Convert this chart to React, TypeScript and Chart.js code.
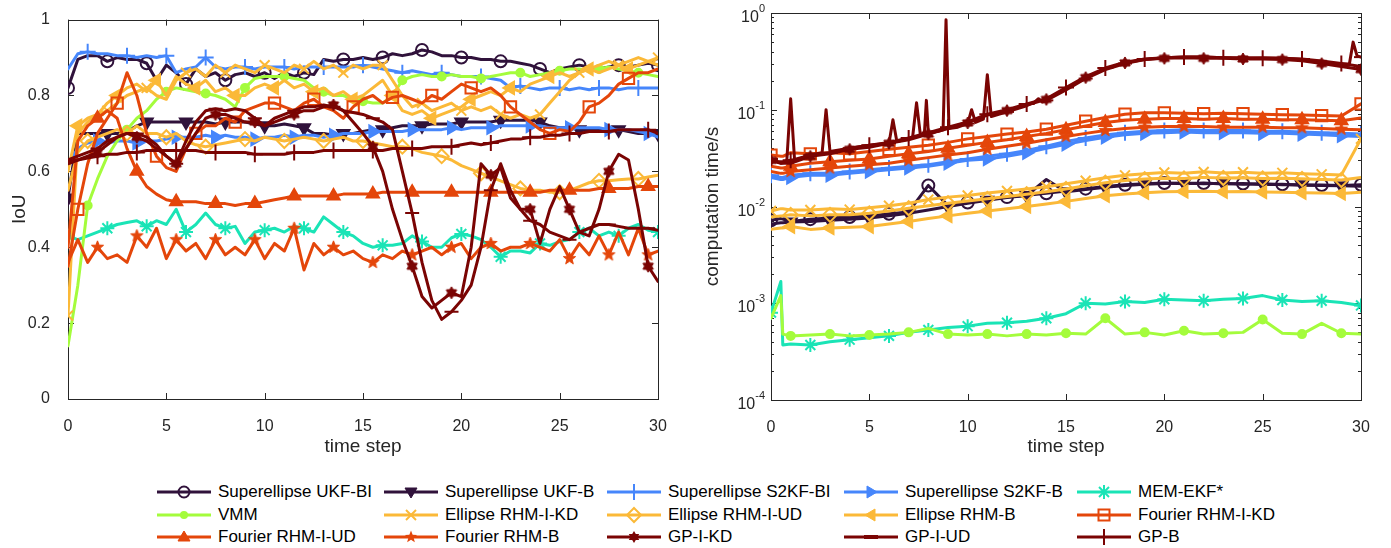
import React, { useEffect, useRef } from 'react';
import { Chart, registerables } from 'chart.js';

Chart.register(...registerables);

const FONT = '"Liberation Sans", Arial, Helvetica, sans-serif';
const INK = '#262626';

// ---------------- shared axis ticks ----------------
const timeTicks = [0, 5, 10, 15, 20, 25, 30];
const timeTickLabels = ['0', '5', '10', '15', '20', '25', '30'];
const iouTicks = [0, 0.2, 0.4, 0.6, 0.8, 1];
const iouTickLabels = ['0', '0.2', '0.4', '0.6', '0.8', '1'];
const logTickExponents = [-4, -3, -2, -1, 0];

const seriesNames = [
  'Superellipse UKF-BI', 'Superellipse UKF-B', 'Superellipse S2KF-BI', 'Superellipse S2KF-B', 'MEM-EKF*',
  'VMM', 'Ellipse RHM-I-KD', 'Ellipse RHM-I-UD', 'Ellipse RHM-B', 'Fourier RHM-I-KD',
  'Fourier RHM-I-UD', 'Fourier RHM-B', 'GP-I-KD', 'GP-I-UD', 'GP-B',
];

// ---------------- left panel: IoU ----------------
const iouTimeSteps = [
  0, 0.5, 1, 1.5, 2, 2.5, 3, 3.5, 4, 4.5,
  5, 5.5, 6, 6.5, 7, 7.5, 8, 8.5, 9, 9.5,
  10, 10.5, 11, 11.5, 12, 12.5, 13, 13.5, 14, 14.5,
  15, 15.5, 16, 16.5, 17, 17.5, 18, 18.5, 19, 19.5,
  20, 20.5, 21, 21.5, 22, 22.5, 23, 23.5, 24, 24.5,
  25, 25.5, 26, 26.5, 27, 27.5, 28, 28.5, 29, 29.5,
  30,
];

const iouUkfBI = [
  .82, .895, .905, .905, .89, .90, .895, .895, .885, .84,
  .88, .86, .83, .87, .85, .86, .84, .855, .86, .85,
  .86, .845, .86, .85, .86, .855, .895, .89, .895, .895,
  .90, .895, .90, .91, .905, .91, .92, .915, .905, .905,
  .90, .90, .895, .895, .89, .89, .885, .88, .87, .86,
  .87, .875, .88, .875, .87, .875, .88, .875, .88, .885,
  .88,
];
const iouUkfB = [
  .53, .70, .70, .70, .70, .70, .705, .72, .73, .73,
  .73, .73, .73, .73, .73, .725, .73, .73, .73, .725,
  .72, .72, .725, .72, .715, .70, .70, .695, .70, .70,
  .705, .71, .71, .715, .72, .72, .72, .725, .725, .725,
  .73, .73, .73, .73, .735, .735, .735, .735, .73, .72,
  .715, .715, .71, .71, .71, .71, .71, .705, .70, .70,
  .70,
];
const iouS2kfBI = [
  .87, .91, .915, .91, .91, .905, .905, .90, .905, .90,
  .905, .86, .87, .875, .90, .875, .87, .875, .875, .87,
  .875, .875, .875, .87, .875, .875, .875, .875, .875, .875,
  .88, .875, .87, .865, .86, .865, .86, .855, .86, .855,
  .85, .85, .85, .845, .84, .82, .825, .82, .815, .82,
  .82, .815, .82, .815, .82, .82, .815, .82, .82, .82,
  .82,
];
const iouS2kfB = [
  .62, .66, .675, .68, .675, .68, .68, .675, .68, .68,
  .685, .69, .69, .69, .695, .69, .695, .69, .69, .685,
  .69, .69, .695, .69, .695, .695, .69, .695, .70, .70,
  .70, .705, .705, .705, .705, .71, .71, .71, .71, .715,
  .71, .715, .715, .715, .72, .72, .72, .72, .72, .715,
  .715, .715, .715, .715, .715, .71, .71, .71, .705, .70,
  .69,
];
const iouMemEkf = [
  .43, .42, .43, .44, .45, .46, .465, .47, .455, .47,
  .46, .50, .44, .46, .49, .46, .45, .455, .41, .44,
  .445, .45, .44, .455, .45, .44, .48, .46, .44, .43,
  .41, .40, .405, .405, .41, .43, .415, .40, .40, .425,
  .435, .43, .42, .40, .375, .39, .39, .385, .41, .405,
  .415, .42, .44, .45, .43, .44, .43, .45, .46, .445,
  .44,
];
const iouVmm = [
  .14, .30, .51, .58, .64, .68, .71, .74, .76, .79,
  .81, .82, .815, .81, .805, .80, .79, .77, .82, .845,
  .85, .85, .85, .845, .84, .82, .81, .80, .80, .79,
  .785, .78, .78, .80, .84, .85, .855, .85, .85, .855,
  .85, .85, .845, .85, .855, .86, .86, .85, .855, .86,
  .865, .87, .87, .865, .87, .875, .87, .865, .86, .855,
  .85,
];
const iouEllIKD = [
  .22, .70, .73, .75, .76, .78, .80, .81, .82, .80,
  .79, .84, .86, .87, .85, .88, .86, .88, .87, .86,
  .88, .87, .86, .88, .87, .89, .87, .88, .86, .88,
  .87, .88, .88, .84, .80, .77, .78, .76, .77, .78,
  .76, .77, .76, .77, .75, .74, .75, .74, .75, .78,
  .81, .84, .86, .87, .88, .89, .88, .89, .90, .89,
  .90,
];
const iouEllIUD = [
  .55, .65, .68, .69, .70, .71, .70, .72, .70, .70,
  .69, .70, .68, .67, .665, .67, .675, .68, .685, .68,
  .69, .685, .68, .685, .69, .685, .68, .685, .69, .68,
  .68, .675, .67, .665, .665, .66, .65, .645, .64, .63,
  .615, .605, .595, .585, .575, .565, .555, .55, .55, .545,
  .545, .55, .56, .57, .575, .575, .578, .58, .58, .585,
  .59,
];
const iouEllB = [
  .60, .72, .74, .75, .78, .80, .82, .83, .81, .84,
  .80, .85, .83, .82, .84, .81, .82, .80, .80, .82,
  .83, .82, .84, .82, .83, .81, .82, .80, .81, .79,
  .80, .82, .84, .80, .76, .75, .76, .74, .75, .76,
  .77, .79, .80, .81, .80, .82, .81, .83, .84, .85,
  .86, .85, .86, .87, .86, .87, .88, .87, .88, .89,
  .88,
];
const iouFouIKD = [
  .35, .50, .62, .70, .74, .78, .86, .80, .70, .64,
  .61, .60, .66, .70, .72, .72, .74, .73, .76, .77,
  .78, .78, .77, .76, .78, .79, .77, .76, .74, .77,
  .79, .80, .78, .795, .80, .79, .78, .80, .79, .81,
  .83, .82, .81, .82, .80, .77, .75, .73, .71, .70,
  .71, .705, .73, .77, .78, .80, .83, .845, .86, .86,
  .87,
];
const iouFouIUD = [
  .40, .68, .72, .74, .76, .74, .66, .60, .56, .54,
  .525, .52, .52, .52, .515, .515, .515, .51, .515, .515,
  .52, .525, .53, .535, .535, .535, .535, .535, .54, .54,
  .54, .54, .545, .545, .545, .545, .545, .545, .545, .545,
  .545, .545, .545, .545, .545, .545, .545, .545, .545, .55,
  .55, .55, .55, .55, .555, .555, .555, .555, .56, .56,
  .56,
];
const iouFouB = [
  .36, .42, .36, .40, .37, .38, .36, .43, .40, .45,
  .37, .42, .39, .41, .37, .42, .38, .40, .38, .42,
  .37, .41, .39, .45, .34, .41, .38, .40, .38, .39,
  .37, .36, .38, .37, .39, .38, .39, .40, .38, .40,
  .41, .37, .40, .41, .39, .40, .40, .41, .40, .39,
  .42, .37, .41, .38, .43, .38, .44, .38, .45, .38,
  .39,
];
const iouGpIKD = [
  .62, .63, .64, .65, .67, .69, .70, .69, .68, .66,
  .64, .62, .66, .70, .74, .75, .75, .74, .73, .73,
  .72, .73, .74, .75, .76, .76, .77, .775, .76, .73,
  .70, .665, .60, .50, .42, .35, .27, .24, .26, .28,
  .27, .40, .62, .59, .61, .53, .50, .50, .41, .50,
  .56, .50, .44, .43, .50, .60, .645, .63, .50, .35,
  .31,
];
const iouGpIUD = [
  .63, .64, .65, .66, .68, .69, .70, .70, .69, .67,
  .64, .62, .68, .73, .76, .765, .76, .765, .76, .74,
  .72, .74, .75, .76, .77, .77, .775, .77, .76, .755,
  .75, .74, .73, .71, .60, .49, .36, .26, .21, .23,
  .26, .30, .40, .55, .62, .55, .50, .47, .46, .44,
  .43, .42, .44, .45, .46, .46, .455, .45, .45, .45,
  .445,
];
const iouGpB = [
  .625, .63, .635, .64, .645, .645, .65, .65, .655, .655,
  .655, .655, .655, .655, .65, .65, .65, .65, .65, .645,
  .645, .645, .645, .65, .65, .65, .655, .655, .655, .655,
  .655, .655, .655, .66, .66, .66, .66, .665, .665, .665,
  .67, .675, .67, .675, .68, .685, .685, .69, .69, .695,
  .695, .70, .70, .705, .705, .705, .71, .71, .71, .71,
  .70,
];

// ---------------- right panel: computation time (s) ----------------
const cpuTimeSteps = [
  0, 0.5, 0.6, 1,
  2, 3, 4, 5, 6, 7, 8, 9, 10, 11,
  12, 13, 14, 15, 16, 17, 18, 19, 20, 21,
  22, 23, 24, 25, 26, 27, 28, 29, 30,
];
const cpuUkfBI = [
  0.0072, 0.0075, 0.0074, 0.0070,
  0.0074, 0.0076, 0.0078, 0.0080, 0.0084, 0.0088, 0.0165, 0.0102, 0.0110, 0.0118,
  0.0125, 0.0131, 0.0137, 0.0145, 0.0153, 0.0161, 0.0168, 0.0172, 0.0175, 0.0172,
  0.0175, 0.0171, 0.0173, 0.0169, 0.0170, 0.0166, 0.0167, 0.0165, 0.0168,
];
const cpuUkfB = [
  0.0066, 0.0068, 0.0068, 0.0069,
  0.0070, 0.0072, 0.0074, 0.0076, 0.0080, 0.0085, 0.0092, 0.0100, 0.0108, 0.0116,
  0.0124, 0.0130, 0.0190, 0.0142, 0.0150, 0.0158, 0.0165, 0.0170, 0.0173, 0.0175,
  0.0172, 0.0174, 0.0170, 0.0172, 0.0168, 0.0168, 0.0165, 0.0164, 0.0162,
];
const cpuS2kfBI = [
  0.021, 0.020, 0.020, 0.021,
  0.022, 0.022, 0.023, 0.024, 0.025, 0.026, 0.027, 0.029, 0.031, 0.033,
  0.035, 0.038, 0.042, 0.047, 0.051, 0.055, 0.058, 0.060, 0.061, 0.062,
  0.061, 0.061, 0.061, 0.060, 0.060, 0.059, 0.058, 0.057, 0.056,
];
const cpuS2kfB = [
  0.020, 0.019, 0.019, 0.020,
  0.021, 0.021, 0.022, 0.023, 0.024, 0.025, 0.026, 0.028, 0.030, 0.031,
  0.033, 0.036, 0.040, 0.044, 0.048, 0.052, 0.055, 0.057, 0.058, 0.059,
  0.058, 0.058, 0.058, 0.057, 0.057, 0.056, 0.055, 0.054, 0.053,
];
const cpuMemEkf = [
  0.00080, 0.00168, 0.00037, 0.00038,
  0.00037, 0.00040, 0.00042, 0.00044, 0.00046, 0.00050, 0.00053, 0.00056, 0.00058, 0.00062,
  0.00063, 0.00065, 0.00070, 0.00078, 0.00100, 0.00098, 0.00104, 0.00102, 0.00110, 0.00108,
  0.00106, 0.00110, 0.00112, 0.00120, 0.00108, 0.00104, 0.00106, 0.00102, 0.00095,
];
const cpuVmm = [
  0.00070, 0.00120, 0.00048, 0.00046,
  0.00047, 0.00048, 0.00046, 0.00047, 0.00048, 0.00050, 0.00055, 0.00048, 0.00047, 0.00048,
  0.00046, 0.00048, 0.00047, 0.00049, 0.00048, 0.00070, 0.00048, 0.00050, 0.00047, 0.00052,
  0.00048, 0.00049, 0.00050, 0.00068, 0.00049, 0.00048, 0.00062, 0.00049, 0.00048,
];
const cpuEllIKD = [
  0.0090, 0.0095, 0.0095, 0.0092,
  0.0092, 0.0095, 0.0093, 0.0097, 0.0102, 0.0108, 0.0118, 0.0125, 0.0130, 0.0138,
  0.0145, 0.0152, 0.0160, 0.0172, 0.0185, 0.0198, 0.0210, 0.0218, 0.0225, 0.0220,
  0.0228, 0.0222, 0.0226, 0.0220, 0.0223, 0.0218, 0.0215, 0.0212, 0.0500,
];
const cpuEllIUD = [
  0.0078, 0.0080, 0.0080, 0.0082,
  0.0080, 0.0082, 0.0082, 0.0085, 0.0090, 0.0096, 0.0102, 0.0108, 0.0114, 0.0120,
  0.0127, 0.0134, 0.0142, 0.0152, 0.0164, 0.0176, 0.0186, 0.0192, 0.0196, 0.0195,
  0.0200, 0.0197, 0.0198, 0.0195, 0.0196, 0.0193, 0.0190, 0.0188, 0.0200,
];
const cpuEllB = [
  0.0058, 0.0060, 0.0060, 0.0062,
  0.0058, 0.0060, 0.0061, 0.0062, 0.0066, 0.0070, 0.0075, 0.0080, 0.0085, 0.0090,
  0.0095, 0.0100, 0.0106, 0.0113, 0.0121, 0.0129, 0.0135, 0.0139, 0.0142, 0.0143,
  0.0144, 0.0142, 0.0143, 0.0141, 0.0140, 0.0139, 0.0138, 0.0136, 0.0140,
];
const cpuFouIKD = [
  0.034, 0.033, 0.033, 0.036,
  0.035, 0.036, 0.035, 0.037, 0.039, 0.041, 0.043, 0.046, 0.050, 0.053,
  0.056, 0.059, 0.063, 0.069, 0.076, 0.083, 0.090, 0.093, 0.093, 0.092,
  0.091, 0.092, 0.091, 0.090, 0.089, 0.088, 0.087, 0.086, 0.115,
];
const cpuFouIUD = [
  0.026, 0.025, 0.025, 0.026,
  0.028, 0.029, 0.030, 0.031, 0.033, 0.035, 0.037, 0.040, 0.043, 0.046,
  0.049, 0.053, 0.057, 0.062, 0.068, 0.074, 0.078, 0.080, 0.081, 0.081,
  0.080, 0.081, 0.080, 0.080, 0.079, 0.079, 0.078, 0.077, 0.082,
];
const cpuFouB = [
  0.023, 0.022, 0.022, 0.023,
  0.024, 0.025, 0.026, 0.027, 0.028, 0.030, 0.032, 0.034, 0.036, 0.039,
  0.042, 0.045, 0.049, 0.053, 0.057, 0.061, 0.064, 0.066, 0.067, 0.067,
  0.067, 0.066, 0.066, 0.066, 0.065, 0.065, 0.064, 0.063, 0.062,
];
const cpuGpIKD = [
  0.030, 0.028, 0.028, 0.028,
  0.033, 0.035, 0.039, 0.041, 0.045, 0.049, 0.056, 0.064, 0.073, 0.088,
  0.098, 0.112, 0.128, 0.165, 0.215, 0.265, 0.305, 0.330, 0.340, 0.345,
  0.340, 0.340, 0.335, 0.335, 0.330, 0.320, 0.300, 0.280, 0.260,
];
// GP-I-UD has short spikes, so it carries its own time stamps
const cpuGpIUDTimeSteps = [
  0, 0.5, 0.8, 1.0, 1.2, 2, 2.6, 2.8, 3.0, 4, 5,
  6.0, 6.2, 6.4, 7, 7.2, 7.4, 7.6, 7.8, 7.9, 8.0,
  8.5, 8.75, 8.9, 9.05, 9.5, 10, 10.2, 10.4, 10.8, 11.0, 11.2,
  12, 13, 13.4, 13.6, 13.8, 14,
  15, 16, 17, 18, 19, 20, 21, 22, 23, 24, 25, 26, 27, 28, 29,
  29.4, 29.6, 29.8, 30,
];
const cpuGpIUD = [
  0.031, 0.028, 0.029, 0.13, 0.030, 0.034, 0.036, 0.10, 0.037, 0.040, 0.043,
  0.045, 0.079, 0.047, 0.050, 0.052, 0.118, 0.054, 0.057, 0.125, 0.058,
  0.060, 0.062, 0.85, 0.064, 0.066, 0.072, 0.10, 0.074, 0.080, 0.23, 0.085,
  0.095, 0.11, 0.12, 0.13, 0.12, 0.125,
  0.16, 0.21, 0.26, 0.30, 0.33, 0.345, 0.35, 0.35, 0.345, 0.34, 0.345, 0.34, 0.33, 0.31, 0.29,
  0.29, 0.50, 0.36, 0.35,
];
const cpuGpB = [
  0.029, 0.029, 0.029, 0.030,
  0.034, 0.036, 0.040, 0.043, 0.046, 0.051, 0.058, 0.066, 0.075, 0.090,
  0.100, 0.115, 0.130, 0.170, 0.220, 0.270, 0.310, 0.335, 0.345, 0.350,
  0.350, 0.345, 0.345, 0.340, 0.340, 0.335, 0.320, 0.300, 0.280,
];

const iouSeries = [
  iouUkfBI, iouUkfB, iouS2kfBI, iouS2kfB, iouMemEkf, iouVmm, iouEllIKD, iouEllIUD, iouEllB,
  iouFouIKD, iouFouIUD, iouFouB, iouGpIKD, iouGpIUD, iouGpB,
];
const cpuSeries = [
  cpuUkfBI, cpuUkfB, cpuS2kfBI, cpuS2kfB, cpuMemEkf, cpuVmm, cpuEllIKD, cpuEllIUD, cpuEllB,
  cpuFouIKD, cpuFouIUD, cpuFouB, cpuGpIKD, cpuGpIUD, cpuGpB,
];
const cpuSeriesTimes = cpuSeries.map((_, i) => (i === 13 ? cpuGpIUDTimeSteps : cpuTimeSteps));

// ---------------- styles ----------------
const C_PURPLE = '#30123b';
const C_BLUE = '#4686fb';
const C_TURQ = '#1ae4b6';
const C_LIME = '#a4fc3c';
const C_YELLOW = '#fbb938';
const C_ORANGE = '#e4460a';
const C_DRED = '#7a0403';

type Kind = 'circle' | 'triDown' | 'plus' | 'triRight' | 'asterisk' | 'dot' | 'x' | 'diamond' |
  'triLeft' | 'square' | 'triUp' | 'pentagram' | 'hexagram' | 'dash';

const STYLES: { color: string; kind: Kind; offL: number; offR: number }[] = [
  { color: C_PURPLE, kind: 'circle', offL: 0, offR: 0 },
  { color: C_PURPLE, kind: 'triDown', offL: 0, offR: 1 },
  { color: C_BLUE, kind: 'plus', offL: 1, offR: 0 },
  { color: C_BLUE, kind: 'triRight', offL: 1.5, offR: 1 },
  { color: C_TURQ, kind: 'asterisk', offL: 0, offR: 0 },
  { color: C_LIME, kind: 'dot', offL: 1, offR: 1 },
  { color: C_YELLOW, kind: 'x', offL: 0, offR: 0 },
  { color: C_YELLOW, kind: 'diamond', offL: 1, offR: 1 },
  { color: C_YELLOW, kind: 'triLeft', offL: 0.5, offR: 1 },
  { color: C_ORANGE, kind: 'square', offL: 0.5, offR: 0 },
  { color: C_ORANGE, kind: 'triUp', offL: 1.5, offR: 1 },
  { color: C_ORANGE, kind: 'pentagram', offL: 1.5, offR: 1 },
  { color: C_DRED, kind: 'hexagram', offL: 1.5, offR: 0 },
  { color: C_DRED, kind: 'dash', offL: 1.5, offR: 0 },
  { color: C_DRED, kind: 'plus', offL: 1.5, offR: 1 },
];

function starPts(cx: number, cy: number, R: number, r: number, n: number): [number, number][] {
  const pts: [number, number][] = [];
  for (let k = 0; k < 2 * n; k++) {
    const rad = k % 2 === 0 ? R : r;
    const a = -Math.PI / 2 + (k * Math.PI) / n;
    pts.push([cx + rad * Math.cos(a), cy + rad * Math.sin(a)]);
  }
  return pts;
}

function starCanvas(color: string, n: number, R: number, ratio: number) {
  const size = Math.ceil(2 * R + 4);
  const c = document.createElement('canvas');
  c.width = size;
  c.height = size;
  const g = c.getContext('2d')!;
  const pts = starPts(size / 2, size / 2, R, R * ratio, n);
  g.beginPath();
  pts.forEach(([x, y], i) => (i ? g.lineTo(x, y) : g.moveTo(x, y)));
  g.closePath();
  g.fillStyle = color;
  g.fill();
  g.strokeStyle = color;
  g.lineWidth = 1;
  g.stroke();
  return c;
}

const HOLLOW = 'rgba(255,255,255,0)';

function pointCfg(kind: Kind, color: string): { style: any; r: number; rot: number; fill: string } {
  switch (kind) {
    case 'circle': return { style: 'circle', r: 6, rot: 0, fill: HOLLOW };
    case 'triDown': return { style: 'triangle', r: 7, rot: 180, fill: color };
    case 'plus': return { style: 'cross', r: 8, rot: 0, fill: color };
    case 'triRight': return { style: 'triangle', r: 7, rot: 90, fill: color };
    case 'asterisk': return { style: 'star', r: 7, rot: 0, fill: color };
    case 'dot': return { style: 'circle', r: 4, rot: 0, fill: color };
    case 'x': return { style: 'crossRot', r: 7, rot: 0, fill: color };
    case 'diamond': return { style: 'rectRot', r: 7, rot: 0, fill: HOLLOW };
    case 'triLeft': return { style: 'triangle', r: 7, rot: 270, fill: color };
    case 'square': return { style: 'rect', r: 8, rot: 0, fill: HOLLOW };
    case 'triUp': return { style: 'triangle', r: 7, rot: 0, fill: color };
    case 'pentagram': return { style: starCanvas(color, 5, 6.5, 0.42), r: 6, rot: 0, fill: color };
    case 'hexagram': return { style: starCanvas(color, 6, 6, 0.6), r: 6, rot: 0, fill: color };
    case 'dash': return { style: 'line', r: 7, rot: 0, fill: color };
  }
}

function markAt(x: number, off: number) {
  if (x < off - 1e-9) return false;
  const k = (x - off) / 2;
  return Math.abs(k - Math.round(k)) < 1e-6;
}

function buildDatasets(times: number[][], values: number[][], side: 'L' | 'R') {
  return values.map((vals, i) => {
    const st = STYLES[i];
    const pc = pointCfg(st.kind, st.color);
    const off = side === 'L' ? st.offL : st.offR;
    const ts = times[i];
    return {
      label: seriesNames[i],
      data: vals.map((v, j) => ({ x: ts[j], y: v })),
      borderColor: st.color,
      backgroundColor: st.color,
      borderWidth: 3,
      borderJoinStyle: 'round' as const,
      borderCapStyle: 'round' as const,
      tension: 0,
      fill: false,
      pointStyle: pc.style,
      pointRotation: pc.rot,
      pointBorderColor: st.color,
      pointBackgroundColor: pc.fill,
      pointBorderWidth: 2,
      pointRadius: (c: any) => (c && c.raw && markAt(c.raw.x, off) ? pc.r : 0),
      pointHoverRadius: 0,
      order: 20 - i,
    };
  });
}

function labelFor(ticks: number[], labels: string[], v: number) {
  const idx = ticks.findIndex((t) => Math.abs(t - v) < 1e-9);
  return idx >= 0 ? labels[idx] : '';
}

// box + inward ticks (MATLAB look)
const matlabBox = {
  id: 'matlabBox',
  beforeDatasetsDraw(chart: any, _args: any, opts: any) {
    const { ctx, chartArea: a } = chart;
    const xs = chart.scales.x;
    const ys = chart.scales.y;
    const L = a.left, R = a.right, T = a.top, B = a.bottom;
    ctx.save();
    ctx.strokeStyle = INK;
    ctx.lineWidth = 1;
    ctx.beginPath();
    for (const v of opts.xMajor) {
      const p = Math.round(xs.getPixelForValue(v)) + 0.5;
      ctx.moveTo(p, B); ctx.lineTo(p, B - 6);
      ctx.moveTo(p, T); ctx.lineTo(p, T + 6);
    }
    for (const v of opts.yMajor) {
      const p = Math.round(ys.getPixelForValue(v)) + 0.5;
      ctx.moveTo(L, p); ctx.lineTo(L + 6, p);
      ctx.moveTo(R, p); ctx.lineTo(R - 6, p);
    }
    for (const v of opts.yMinor || []) {
      const p = Math.round(ys.getPixelForValue(v)) + 0.5;
      ctx.moveTo(L, p); ctx.lineTo(L + 3, p);
      ctx.moveTo(R, p); ctx.lineTo(R - 3, p);
    }
    ctx.stroke();
    ctx.strokeRect(Math.round(L) + 0.5, Math.round(T) + 0.5, Math.round(R - L), Math.round(B - T));
    ctx.restore();
  },
};

// 10^n labels with superscript exponent
const logLabels = {
  id: 'logLabels',
  afterDraw(chart: any, _args: any, opts: any) {
    if (!opts || !opts.exps) return;
    const { ctx, chartArea: a } = chart;
    const ys = chart.scales.y;
    ctx.save();
    ctx.fillStyle = INK;
    ctx.textBaseline = 'alphabetic';
    ctx.textAlign = 'left';
    for (const e of opts.exps) {
      const y = ys.getPixelForValue(Math.pow(10, e));
      const expText = String(e);
      ctx.font = `11px ${FONT}`;
      const ew = ctx.measureText(expText).width;
      const xr = a.left - 6;
      ctx.fillText(expText, xr - ew, y - 1);
      ctx.font = `16px ${FONT}`;
      const bw = ctx.measureText('10').width;
      ctx.fillText('10', xr - ew - bw, y + 9);
    }
    ctx.restore();
  },
};

function LegendIcon({ kind, color }: { kind: Kind; color: string }) {
  const cx = 28, cy = 11;
  let m: any = null;
  const sw = 2;
  switch (kind) {
    case 'circle': m = <circle cx={cx} cy={cy} r={5.5} fill="none" stroke={color} strokeWidth={sw} />; break;
    case 'triDown': m = <polygon points={`${cx - 6},${cy - 4} ${cx + 6},${cy - 4} ${cx},${cy + 6}`} fill={color} stroke={color} strokeWidth={1} />; break;
    case 'triUp': m = <polygon points={`${cx - 6},${cy + 4} ${cx + 6},${cy + 4} ${cx},${cy - 6}`} fill={color} stroke={color} strokeWidth={1} />; break;
    case 'triRight': m = <polygon points={`${cx - 4},${cy - 6} ${cx - 4},${cy + 6} ${cx + 6},${cy}`} fill={color} stroke={color} strokeWidth={1} />; break;
    case 'triLeft': m = <polygon points={`${cx + 4},${cy - 6} ${cx + 4},${cy + 6} ${cx - 6},${cy}`} fill={color} stroke={color} strokeWidth={1} />; break;
    case 'plus': m = <g stroke={color} strokeWidth={sw}><line x1={cx - 8} y1={cy} x2={cx + 8} y2={cy} /><line x1={cx} y1={cy - 8} x2={cx} y2={cy + 8} /></g>; break;
    case 'x': m = <g stroke={color} strokeWidth={sw}><line x1={cx - 5} y1={cy - 5} x2={cx + 5} y2={cy + 5} /><line x1={cx - 5} y1={cy + 5} x2={cx + 5} y2={cy - 5} /></g>; break;
    case 'asterisk': m = <g stroke={color} strokeWidth={sw}><line x1={cx - 7} y1={cy} x2={cx + 7} y2={cy} /><line x1={cx} y1={cy - 7} x2={cx} y2={cy + 7} /><line x1={cx - 5} y1={cy - 5} x2={cx + 5} y2={cy + 5} /><line x1={cx - 5} y1={cy + 5} x2={cx + 5} y2={cy - 5} /></g>; break;
    case 'dot': m = <circle cx={cx} cy={cy} r={4} fill={color} />; break;
    case 'diamond': m = <polygon points={`${cx},${cy - 7} ${cx + 7},${cy} ${cx},${cy + 7} ${cx - 7},${cy}`} fill="none" stroke={color} strokeWidth={sw} />; break;
    case 'square': m = <rect x={cx - 5.5} y={cy - 5.5} width={11} height={11} fill="none" stroke={color} strokeWidth={sw} />; break;
    case 'pentagram': m = <polygon points={starPts(cx, cy, 6.5, 2.8, 5).map((p) => p.join(',')).join(' ')} fill={color} />; break;
    case 'hexagram': m = <polygon points={starPts(cx, cy, 6, 3.6, 6).map((p) => p.join(',')).join(' ')} fill={color} />; break;
    case 'dash': m = <line x1={cx - 7} y1={cy} x2={cx + 7} y2={cy} stroke={color} strokeWidth={4} />; break;
  }
  return (
    <svg width={56} height={22} style={{ display: 'block', flex: '0 0 auto' }}>
      <line x1={1} y1={cy} x2={55} y2={cy} stroke={color} strokeWidth={3} />
      {m}
    </svg>
  );
}

const LEGEND_COLS = [156, 383, 606, 843, 1076];
const LEGEND_ROWS = [492, 515, 537];

export default function App() {
  const leftRef = useRef<HTMLCanvasElement>(null);
  const rightRef = useRef<HTMLCanvasElement>(null);

  useEffect(() => {
    const tickFont = { family: FONT, size: 16 };
    const titleFont = { family: FONT, size: 19 };
    const minorLog: number[] = [];
    for (let e = -4; e < 0; e++) for (let m = 2; m <= 9; m++) minorLog.push(m * Math.pow(10, e));

    const xScale = (h: number) => ({
      type: 'linear' as const,
      min: 0,
      max: 30,
      afterFit: (s: any) => { s.height = h; },
      grid: { display: false },
      border: { display: false },
      ticks: {
        stepSize: 5, autoSkip: false, maxRotation: 0, padding: 10, color: INK, font: tickFont,
        callback: (v: any) => labelFor(timeTicks, timeTickLabels, Number(v)),
      },
      title: { display: true, text: 'time step', color: INK, font: titleFont, padding: { top: 0, bottom: 12 } },
    });

    const left = new Chart(leftRef.current!, {
      type: 'line',
      data: { datasets: buildDatasets(iouSeries.map(() => iouTimeSteps), iouSeries, 'L') as any },
      options: {
        animation: false,
        responsive: false,
        events: [],
        layout: { padding: { left: 0, right: 32, top: 13, bottom: 0 } },
        plugins: {
          legend: { display: false },
          tooltip: { enabled: false },
          matlabBox: { xMajor: timeTicks, yMajor: iouTicks },
        } as any,
        scales: {
          x: xScale(71) as any,
          y: {
            type: 'linear',
            min: 0,
            max: 1,
            afterFit: (s: any) => { s.width = 68; },
            grid: { display: false },
            border: { display: false },
            ticks: {
              stepSize: 0.2, padding: 10, color: INK, font: tickFont,
              callback: (v: any) => labelFor(iouTicks, iouTickLabels, Number(v)),
            },
            title: { display: true, text: 'IoU', color: INK, font: titleFont, padding: { top: 8, bottom: 0 } },
          },
        },
      },
      plugins: [matlabBox],
    });

    const right = new Chart(rightRef.current!, {
      type: 'line',
      data: { datasets: buildDatasets(cpuSeriesTimes, cpuSeries, 'R') as any },
      options: {
        animation: false,
        responsive: false,
        events: [],
        layout: { padding: { left: 0, right: 30, top: 13, bottom: 0 } },
        plugins: {
          legend: { display: false },
          tooltip: { enabled: false },
          matlabBox: {
            xMajor: timeTicks,
            yMajor: logTickExponents.map((e) => Math.pow(10, e)),
            yMinor: minorLog,
          },
          logLabels: { exps: logTickExponents },
        } as any,
        scales: {
          x: xScale(70) as any,
          y: {
            type: 'logarithmic',
            min: 1e-4,
            max: 1,
            afterFit: (s: any) => { s.width = 81; },
            grid: { display: false },
            border: { display: false },
            ticks: { display: false },
            title: { display: true, text: 'computation time/s', color: INK, font: titleFont, padding: { top: 11, bottom: 0 } },
          },
        },
      },
      plugins: [matlabBox, logLabels],
    });

    return () => {
      left.destroy();
      right.destroy();
    };
  }, []);

  return (
    <div style={{ position: 'absolute', left: 0, top: 0, width: 1391, height: 548, background: '#fff', overflow: 'hidden' }}>
      <canvas ref={leftRef} width={690} height={470} style={{ position: 'absolute', left: 0, top: 0 }} />
      <canvas ref={rightRef} width={701} height={470} style={{ position: 'absolute', left: 690, top: 0 }} />
      {seriesNames.map((name, i) => {
        const st = STYLES[i];
        const col = i % 5;
        const row = Math.floor(i / 5);
        return (
          <div
            key={name}
            style={{
              position: 'absolute',
              left: LEGEND_COLS[col],
              top: LEGEND_ROWS[row] - 11,
              height: 22,
              display: 'flex',
              alignItems: 'center',
              whiteSpace: 'nowrap',
            }}
          >
            <LegendIcon kind={st.kind} color={st.color} />
            <span style={{ marginLeft: 6, fontFamily: FONT, fontSize: 17, color: '#000', lineHeight: '22px' }}>{name}</span>
          </div>
        );
      })}
    </div>
  );
}
